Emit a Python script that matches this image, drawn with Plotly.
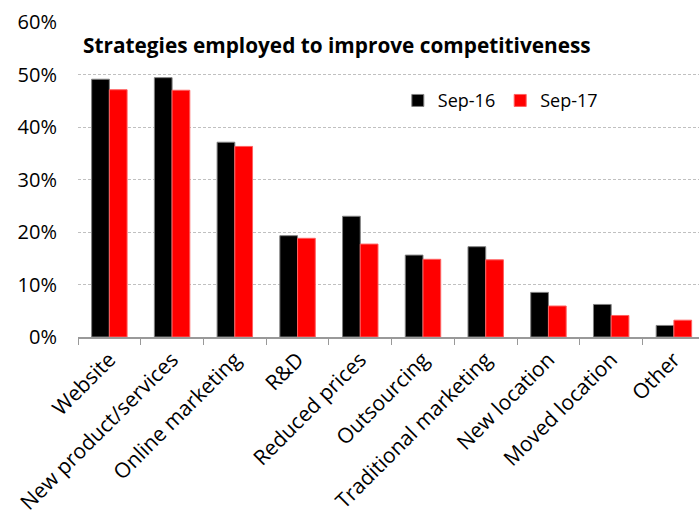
import plotly.graph_objects as go

categories = ["Website", "New product/services", "Online marketing", "R&D", "Reduced prices",
              "Outsourcing", "Traditional marketing", "New location", "Moved location", "Other"]
sep16 = [0.491, 0.494, 0.371, 0.193, 0.230, 0.156, 0.172, 0.085, 0.062, 0.022]
sep17 = [0.471, 0.470, 0.363, 0.188, 0.177, 0.148, 0.147, 0.059, 0.041, 0.032]
series_names = ["Sep-16", "Sep-17"]
title_text = "Strategies employed to improve competitiveness"

FONT = "Open Sans"

fig = go.Figure()
fig.add_trace(go.Bar(x=categories, y=sep16, name=series_names[0],
                     marker=dict(color="#000000", line=dict(color="#808080", width=1))))
fig.add_trace(go.Bar(x=categories, y=sep17, name=series_names[1],
                     marker=dict(color="#ff0000", line=dict(color="#ff6060", width=1))))

fig.update_layout(
    width=699, height=516,
    margin=dict(l=78, r=0, t=22, b=179),
    paper_bgcolor="white", plot_bgcolor="white",
    barmode="group", bargap=0.435, bargroupgap=0,
    font=dict(family=FONT, size=18, color="#000000"),
    showlegend=True,
    legend=dict(orientation="h", x=0.515, y=0.75, xanchor="left", yanchor="middle",
                font=dict(family=FONT, size=18), bgcolor="rgba(0,0,0,0)",
                itemwidth=30, tracegroupgap=0),
    annotations=[dict(text="<b>" + title_text + "</b>", xref="paper", yref="paper",
                      x=0.005, y=0.927, xanchor="left", yanchor="middle", showarrow=False,
                      font=dict(family=FONT, size=20.8, color="#000000"))],
)
fig.update_xaxes(range=[-0.5, 9.4], tickangle=-45, tickson="boundaries", ticks="outside",
                 ticklen=6, tickcolor="#999999", showline=True, linecolor="#999999", linewidth=2,
                 showgrid=False, tickfont=dict(family=FONT, size=21))
fig.update_yaxes(range=[0, 0.6], tickformat=".0%", dtick=0.1, showgrid=True,
                 gridcolor="#c0c0c0", griddash="3px,2px", gridwidth=1, zeroline=False,
                 showline=False, ticks="", ticklabelstandoff=20,
                 tickfont=dict(family=FONT, size=20))

fig.write_html("out.html")
